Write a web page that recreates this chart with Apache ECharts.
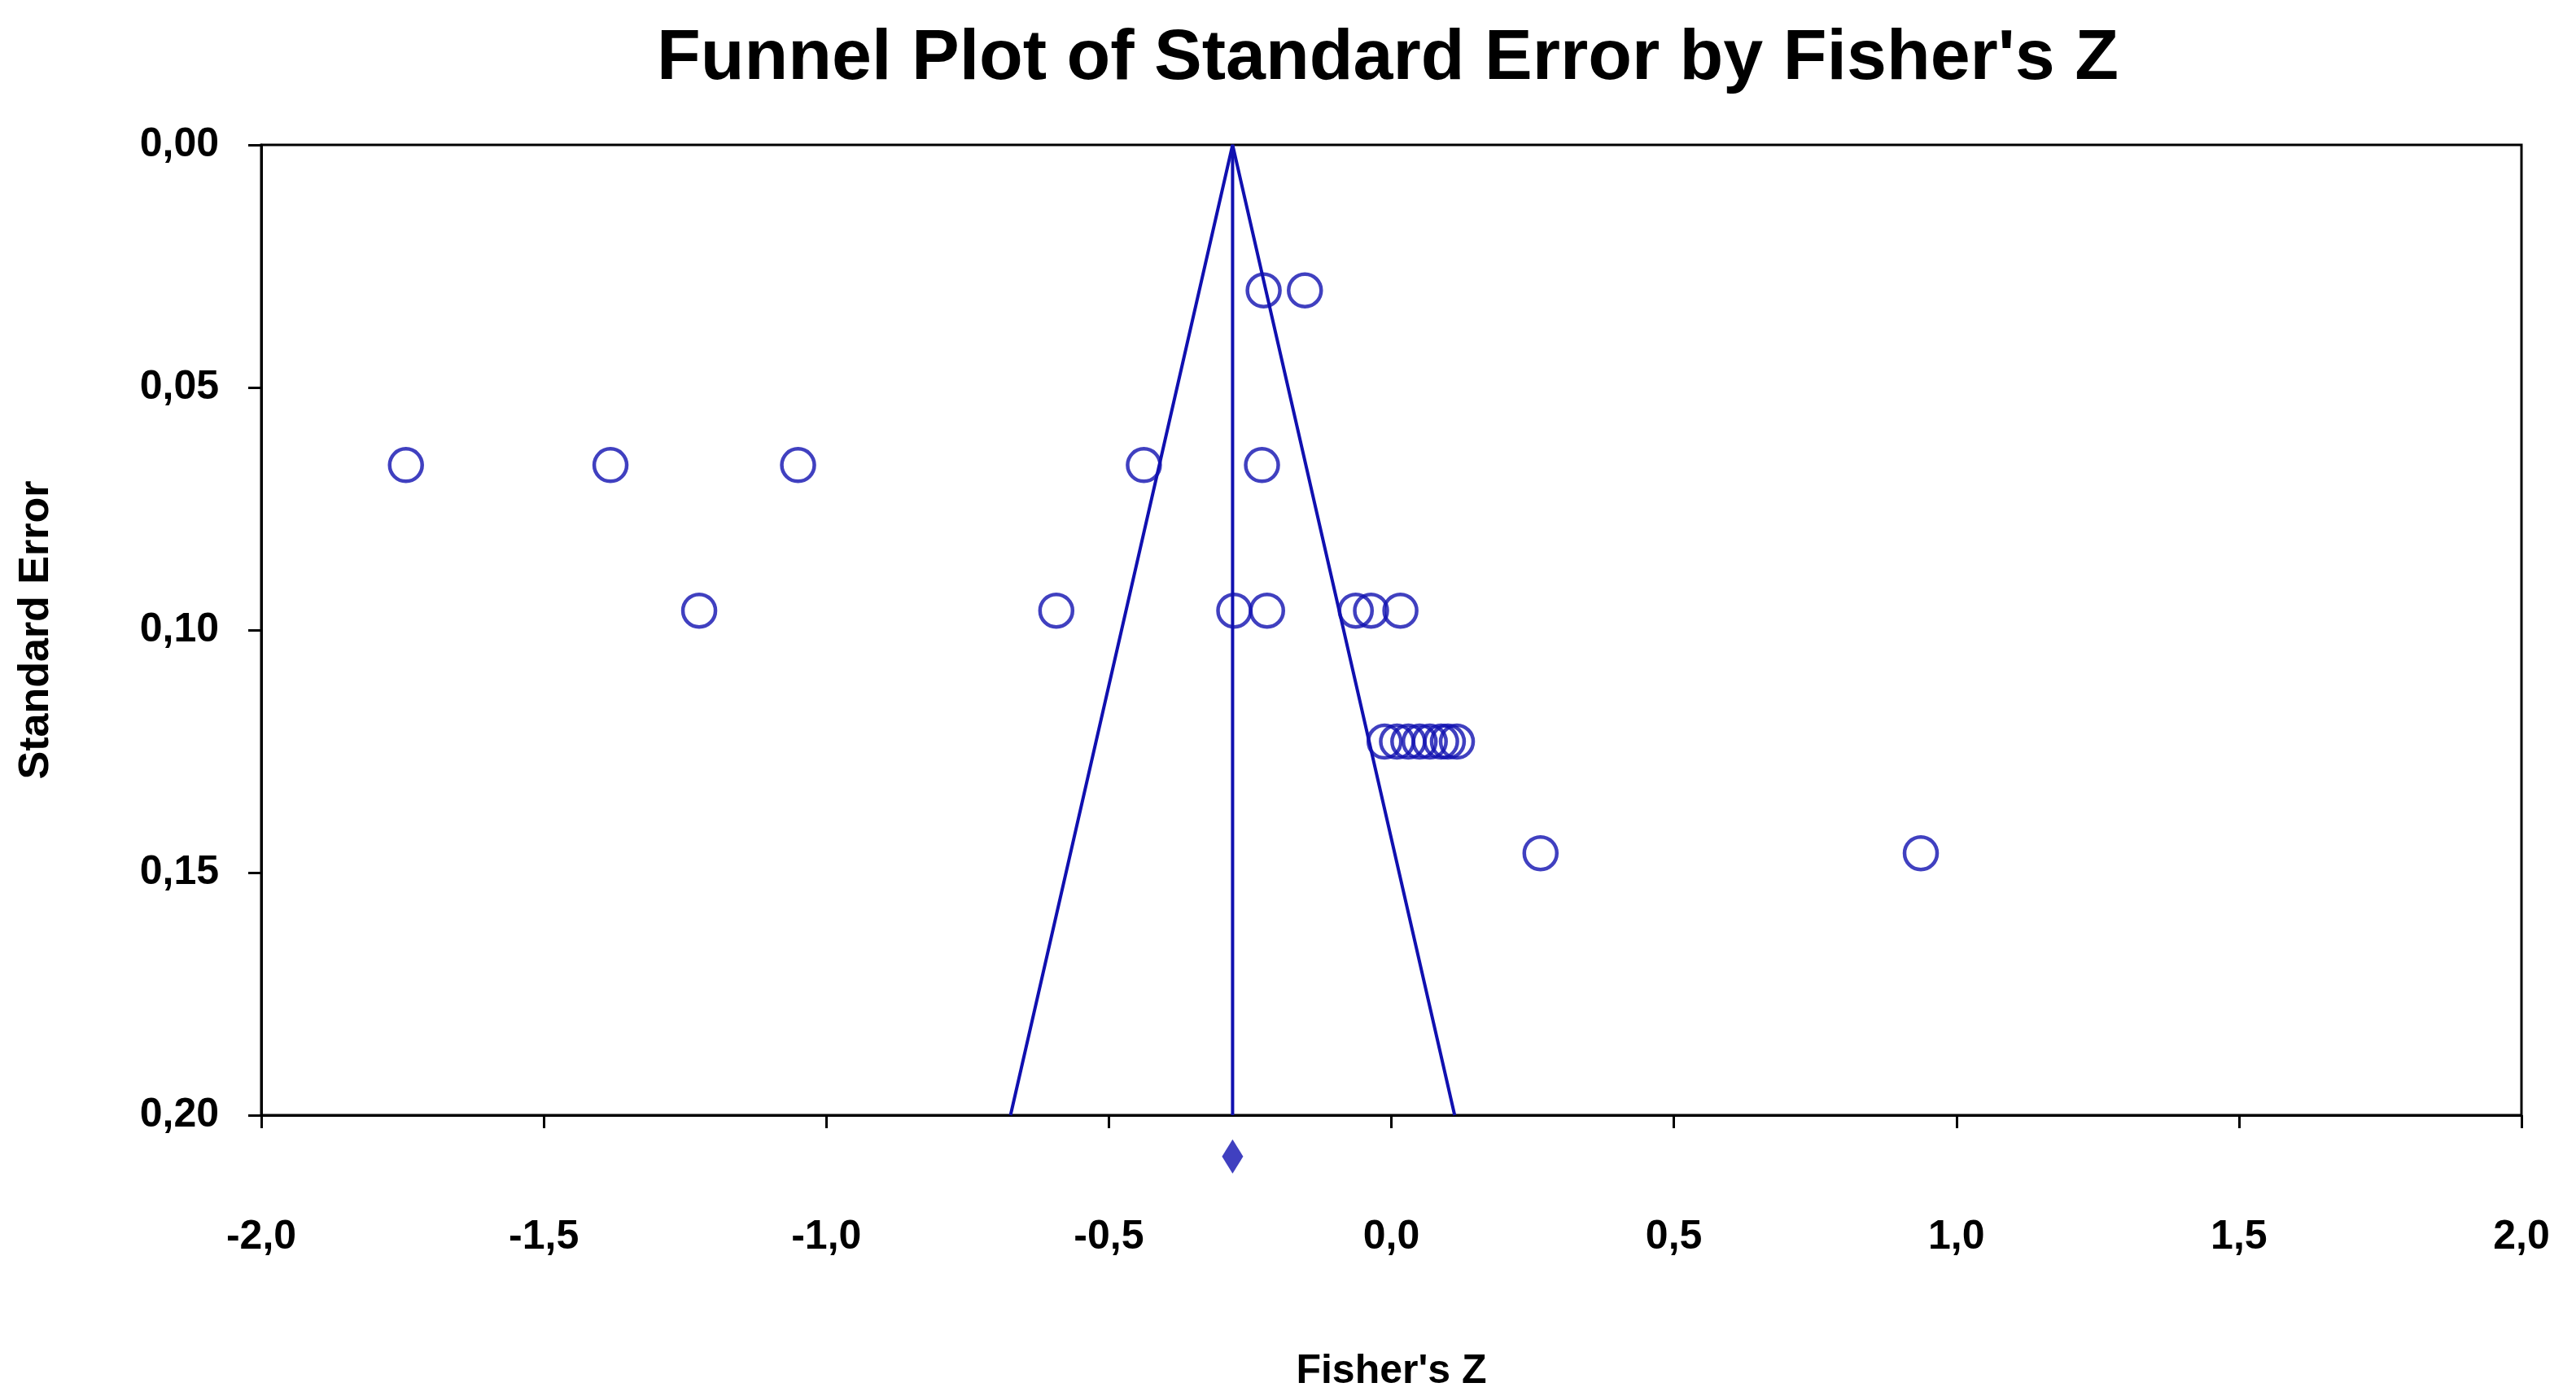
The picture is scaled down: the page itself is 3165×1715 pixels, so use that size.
<!DOCTYPE html>
<html>
<head>
<meta charset="utf-8">
<script src="https://cdn.jsdelivr.net/npm/echarts@6/dist/echarts.min.js"></script>
<style>html,body{margin:0;padding:0;background:#fff}#main{width:3165px;height:1715px}</style>
</head>
<body>
<div id="main"></div>
<script>
// studies: Fisher's Z and standard error
var studyZ = [-0.226, -0.153,
    -1.744, -1.382, -1.050, -0.438, -0.229,
    -1.225, -0.593, -0.278, -0.220, -0.063, -0.036, 0.016,
    -0.012, 0.010, 0.030, 0.050, 0.068, 0.088, 0.100, 0.116,
    0.264, 0.937];
var studySE = [0.030, 0.030,
    0.066, 0.066, 0.066, 0.066, 0.066,
    0.096, 0.096, 0.096, 0.096, 0.096, 0.096, 0.096,
    0.123, 0.123, 0.123, 0.123, 0.123, 0.123, 0.123, 0.123,
    0.146, 0.146];
var pooledZ = -0.281;
var funnelHalf = 0.393; // 1.96 * 0.2
var diamondSE = 0.2085;

var blue = '#1010b0';
var pts = [];
for (var i = 0; i < studyZ.length; i++) {
    pts.push([studyZ[i], studySE[i]]);
}

function comma(d) {
    return function (v) { return v.toFixed(d).replace('.', ','); };
}

var myChart = echarts.init(document.getElementById('main'));
var option = {
    backgroundColor: '#fff',
    animation: false,
    title: {
        text: "Funnel Plot of Standard Error by Fisher's Z",
        left: 1700, top: 24, textAlign: 'center',
        textStyle: {fontFamily: 'Liberation Sans', fontWeight: 'bold', fontSize: 88, color: '#000'}
    },
    grid: {left: 321, right: 67, top: 178, bottom: 344, show: true, borderColor: '#000', borderWidth: 3},
    xAxis: {
        type: 'value', min: -2, max: 2, interval: 0.5,
        name: "Fisher's Z", nameLocation: 'middle', nameGap: 290,
        nameTextStyle: {fontFamily: 'Liberation Sans', fontWeight: 'bold', fontSize: 50, color: '#000'},
        axisLine: {onZero: false, lineStyle: {color: '#000', width: 3}},
        axisTick: {length: 16, lineStyle: {color: '#000', width: 3}},
        splitLine: {show: false},
        axisLabel: {margin: 125, formatter: comma(1), fontFamily: 'Liberation Sans', fontWeight: 'bold', fontSize: 50, color: '#000'}
    },
    yAxis: {
        type: 'value', min: 0, max: 0.2, interval: 0.05, inverse: true,
        name: 'Standard Error', nameLocation: 'middle', nameGap: 250,
        nameTextStyle: {fontFamily: 'Liberation Sans', fontWeight: 'bold', fontSize: 52, color: '#000'},
        axisLine: {onZero: false, lineStyle: {color: '#000', width: 3}},
        axisTick: {length: 16, lineStyle: {color: '#000', width: 3}},
        splitLine: {show: false},
        axisLabel: {margin: 52, formatter: comma(2), fontFamily: 'Liberation Sans', fontWeight: 'bold', fontSize: 50, color: '#000'}
    },
    series: [
        {
            type: 'line', symbol: 'none',
            data: [[pooledZ - funnelHalf, 0.2], [pooledZ, 0], [pooledZ + funnelHalf, 0.2]],
            lineStyle: {color: blue, width: 4}
        },
        {
            type: 'line', symbol: 'none',
            data: [[pooledZ, 0], [pooledZ, 0.2]],
            lineStyle: {color: blue, width: 4}
        },
        {
            type: 'scatter', symbol: 'circle', symbolSize: 40,
            data: pts,
            itemStyle: {color: 'rgba(255,255,255,0)', borderColor: blue, borderWidth: 4.5}
        },
        {
            type: 'scatter', symbol: 'diamond', symbolSize: [26, 42], clip: false,
            data: [[pooledZ, diamondSE]],
            itemStyle: {color: blue}
        }
    ]
};
myChart.setOption(option);
</script>
</body>
</html>
